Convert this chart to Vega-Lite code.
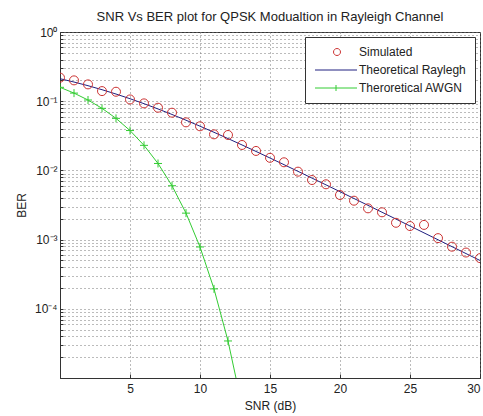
{
  "$schema": "https://vega.github.io/schema/vega-lite/v6.json",
  "width": 420,
  "height": 346,
  "autosize": {"type": "none"},
  "padding": {"left": 60, "top": 32, "right": 3, "bottom": 38},
  "background": "white",
  "title": {"text": "SNR Vs BER plot for QPSK Modualtion in Rayleigh Channel", "font": "Liberation Sans", "fontSize": 13, "fontWeight": "normal", "color": "#222", "anchor": "middle", "offset": 2},
  "config": {
    "view": {"stroke": "#333", "strokeWidth": 1},
    "axis": {"labelFont": "Liberation Sans", "titleFont": "Liberation Sans", "labelFontSize": 12, "titleFontSize": 12, "titleFontWeight": "normal", "labelColor": "#222", "titleColor": "#222", "domainColor": "#333", "tickColor": "#333", "gridColor": "#777", "gridDash": [1, 3], "gridWidth": 1, "gridOpacity": 1}
  },
  "data": {"values": [
    {"snr": 0, "ber": 0.219, "series": "Simulated"},
    {"snr": 1, "ber": 0.200, "series": "Simulated"},
    {"snr": 2, "ber": 0.175, "series": "Simulated"},
    {"snr": 3, "ber": 0.140, "series": "Simulated"},
    {"snr": 4, "ber": 0.137, "series": "Simulated"},
    {"snr": 5, "ber": 0.106, "series": "Simulated"},
    {"snr": 6, "ber": 0.093, "series": "Simulated"},
    {"snr": 7, "ber": 0.0805, "series": "Simulated"},
    {"snr": 8, "ber": 0.0682, "series": "Simulated"},
    {"snr": 9, "ber": 0.0495, "series": "Simulated"},
    {"snr": 10, "ber": 0.0434, "series": "Simulated"},
    {"snr": 11, "ber": 0.0332, "series": "Simulated"},
    {"snr": 12, "ber": 0.0325, "series": "Simulated"},
    {"snr": 13, "ber": 0.0233, "series": "Simulated"},
    {"snr": 14, "ber": 0.0191, "series": "Simulated"},
    {"snr": 15, "ber": 0.0152, "series": "Simulated"},
    {"snr": 16, "ber": 0.0131, "series": "Simulated"},
    {"snr": 17, "ber": 0.00959, "series": "Simulated"},
    {"snr": 18, "ber": 0.00726, "series": "Simulated"},
    {"snr": 19, "ber": 0.0063, "series": "Simulated"},
    {"snr": 20, "ber": 0.00441, "series": "Simulated"},
    {"snr": 21, "ber": 0.00365, "series": "Simulated"},
    {"snr": 22, "ber": 0.00283, "series": "Simulated"},
    {"snr": 23, "ber": 0.00248, "series": "Simulated"},
    {"snr": 24, "ber": 0.00175, "series": "Simulated"},
    {"snr": 25, "ber": 0.00157, "series": "Simulated"},
    {"snr": 26, "ber": 0.00163, "series": "Simulated"},
    {"snr": 27, "ber": 0.00105, "series": "Simulated"},
    {"snr": 28, "ber": 0.00079, "series": "Simulated"},
    {"snr": 29, "ber": 0.00065, "series": "Simulated"},
    {"snr": 30, "ber": 0.00054, "series": "Simulated"},
    {"snr": 0, "ber": 0.21132, "series": "Theoretical Raylegh"},
    {"snr": 1, "ber": 0.18923, "series": "Theoretical Raylegh"},
    {"snr": 2, "ber": 0.16755, "series": "Theoretical Raylegh"},
    {"snr": 3, "ber": 0.14665, "series": "Theoretical Raylegh"},
    {"snr": 4, "ber": 0.12693, "series": "Theoretical Raylegh"},
    {"snr": 5, "ber": 0.10866, "series": "Theoretical Raylegh"},
    {"snr": 6, "ber": 0.09207, "series": "Theoretical Raylegh"},
    {"snr": 7, "ber": 0.07728, "series": "Theoretical Raylegh"},
    {"snr": 8, "ber": 0.06431, "series": "Theoretical Raylegh"},
    {"snr": 9, "ber": 0.0531, "series": "Theoretical Raylegh"},
    {"snr": 10, "ber": 0.04356, "series": "Theoretical Raylegh"},
    {"snr": 11, "ber": 0.03553, "series": "Theoretical Raylegh"},
    {"snr": 12, "ber": 0.02884, "series": "Theoretical Raylegh"},
    {"snr": 13, "ber": 0.02332, "series": "Theoretical Raylegh"},
    {"snr": 14, "ber": 0.01879, "series": "Theoretical Raylegh"},
    {"snr": 15, "ber": 0.0151, "series": "Theoretical Raylegh"},
    {"snr": 16, "ber": 0.012101, "series": "Theoretical Raylegh"},
    {"snr": 17, "ber": 0.009686, "series": "Theoretical Raylegh"},
    {"snr": 18, "ber": 0.00774, "series": "Theoretical Raylegh"},
    {"snr": 19, "ber": 0.006178, "series": "Theoretical Raylegh"},
    {"snr": 20, "ber": 0.004926, "series": "Theoretical Raylegh"},
    {"snr": 21, "ber": 0.003925, "series": "Theoretical Raylegh"},
    {"snr": 22, "ber": 0.003125, "series": "Theoretical Raylegh"},
    {"snr": 23, "ber": 0.002487, "series": "Theoretical Raylegh"},
    {"snr": 24, "ber": 0.001979, "series": "Theoretical Raylegh"},
    {"snr": 25, "ber": 0.001574, "series": "Theoretical Raylegh"},
    {"snr": 26, "ber": 0.001251, "series": "Theoretical Raylegh"},
    {"snr": 27, "ber": 0.0009947, "series": "Theoretical Raylegh"},
    {"snr": 28, "ber": 0.0007906, "series": "Theoretical Raylegh"},
    {"snr": 29, "ber": 0.0006282, "series": "Theoretical Raylegh"},
    {"snr": 30, "ber": 0.0004993, "series": "Theoretical Raylegh"},
    {"snr": 0, "ber": 0.15866, "series": "Theroretical AWGN"},
    {"snr": 1, "ber": 0.13093, "series": "Theroretical AWGN"},
    {"snr": 2, "ber": 0.10404, "series": "Theroretical AWGN"},
    {"snr": 3, "ber": 0.0789, "series": "Theroretical AWGN"},
    {"snr": 4, "ber": 0.05649, "series": "Theroretical AWGN"},
    {"snr": 5, "ber": 0.03768, "series": "Theroretical AWGN"},
    {"snr": 6, "ber": 0.02301, "series": "Theroretical AWGN"},
    {"snr": 7, "ber": 0.01259, "series": "Theroretical AWGN"},
    {"snr": 8, "ber": 0.006004, "series": "Theroretical AWGN"},
    {"snr": 9, "ber": 0.002413, "series": "Theroretical AWGN"},
    {"snr": 10, "ber": 0.0007827, "series": "Theroretical AWGN"},
    {"snr": 11, "ber": 0.000194, "series": "Theroretical AWGN"},
    {"snr": 12, "ber": 0.0000343, "series": "Theroretical AWGN"},
    {"snr": 13, "ber": 0.00000397, "series": "Theroretical AWGN"}
  ]},
  "encoding": {
    "x": {"field": "snr", "type": "quantitative", "scale": {"domain": [0, 30], "nice": false, "zero": false},
      "axis": {"title": "SNR (dB)", "values": [5, 10, 15, 20, 25, 30], "grid": true, "tickSize": -4, "labelPadding": 9, "titlePadding": 6}},
    "y": {"field": "ber", "type": "quantitative", "scale": {"type": "log", "domain": [0.00001, 1], "nice": false},
      "axis": {"title": "BER", "grid": true, "tickSize": -3, "labelPadding": 6, "titlePadding": 6,
        "values": [0.00001,0.00002,0.00003,0.00004,0.00005,0.00006,0.00007,0.00008,0.00009,0.0001,0.0002,0.0003,0.0004,0.0005,0.0006,0.0007,0.0008,0.0009,0.001,0.002,0.003,0.004,0.005,0.006,0.007,0.008,0.009,0.01,0.02,0.03,0.04,0.05,0.06,0.07,0.08,0.09,0.1,0.2,0.3,0.4,0.5,0.6,0.7,0.8,0.9,1],
        "labelExpr": "datum.value == 1 ? '10⁰' : datum.value == 0.1 ? '10⁻¹' : datum.value == 0.01 ? '10⁻²' : datum.value == 0.001 ? '10⁻³' : datum.value == 0.0001 ? '10⁻⁴' : ''"}},
    "color": {"field": "series", "type": "nominal",
      "scale": {"domain": ["Simulated", "Theoretical Raylegh", "Theroretical AWGN"], "range": ["#cc3333", "#202080", "#33cc33"]},
      "legend": {"title": null, "orient": "top-right", "offset": 5, "padding": 9, "strokeColor": "#333", "fillColor": "white",
          "labelFont": "Liberation Sans", "labelFontSize": 12, "labelColor": "#222", "symbolSize": 100, "labelOffset": 33, "rowPadding": 6,
          "values": ["Simulated", "Theoretical Raylegh", "Theroretical AWGN"],
          "encode": {"symbols": {"update": {
            "shape": {"signal": "datum.value == 'Simulated' ? 'M2.7,0A0.7,0.7 0 1,0 4.1,0A0.7,0.7 0 1,0 2.7,0' : datum.value == 'Theoretical Raylegh' ? 'M-1,0H7.4' : 'M-1,0H7.4M3.2,-0.6V0.6'"},
            "fill": {"value": "transparent"},
            "strokeWidth": {"value": 1},
            "opacity": {"value": 1}
          }}}}}
  },
  "layer": [
    {"transform": [{"filter": "datum.series == 'Theroretical AWGN'"}], "mark": {"type": "line", "strokeWidth": 1, "clip": true}},
    {"transform": [{"filter": "datum.series == 'Theroretical AWGN'"}], "mark": {"type": "point", "shape": "M-1,0H1M0,-1V1", "size": 64, "filled": false, "strokeWidth": 1, "clip": true, "opacity": 1}},
    {"transform": [{"filter": "datum.series == 'Theoretical Raylegh'"}], "mark": {"type": "line", "strokeWidth": 1, "clip": true}},
    {"transform": [{"filter": "datum.series == 'Simulated'"}], "mark": {"type": "point", "shape": "circle", "size": 81, "filled": false, "strokeWidth": 1, "clip": true, "opacity": 1}}
  ]
}
